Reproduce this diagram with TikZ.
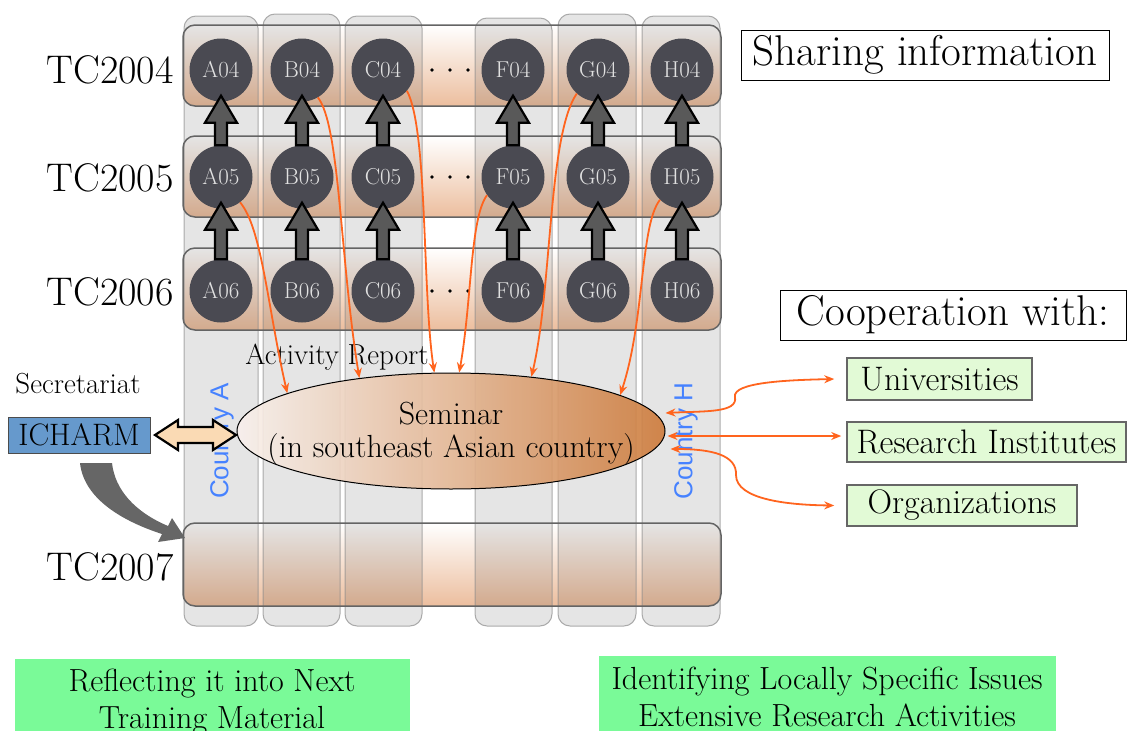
\documentclass[tikz,border=0pt]{standalone}
\usepackage{fontspec}
\newfontfamily\cfont{Liberation Sans}
\usetikzlibrary{calc,arrows.meta,shapes.geometric}
\definecolor{bandtan}{RGB}{236,190,158}
\definecolor{bandline}{RGB}{100,100,100}
\definecolor{circfill}{RGB}{74,74,82}
\definecolor{circtext}{RGB}{225,225,225}
\definecolor{orangec}{RGB}{255,100,30}
\definecolor{countryblue}{RGB}{70,130,255}
\definecolor{semleft}{RGB}{248,240,236}
\definecolor{semright}{RGB}{205,125,62}
\definecolor{greenbox}{RGB}{122,250,152}
\definecolor{lightgreen}{RGB}{226,250,214}
\definecolor{icharmblue}{RGB}{102,153,204}
\definecolor{peach}{RGB}{250,218,180}
\newcommand\fs[1]{\fontsize{#1}{#1}\selectfont}
\newcommand\blockup[2]{%
  \draw[blk] ($(#1.north)+(-6,0)$) -- ($(#2.south)+(-6,21)$) -- ($(#2.south)+(-16,21)$)
    -- ($(#2.south)+(0,-6)$) -- ($(#2.south)+(16,21)$) -- ($(#2.south)+(6,21)$)
    -- ($(#1.north)+(6,0)$) -- cycle;}
\tikzset{
  bandfill/.style={rounded corners=12pt, top color=white, bottom color=bandtan},
  bandedge/.style={rounded corners=12pt, draw=bandline, line width=1.5pt},
  colstrip/.style={rounded corners=12pt, fill=black, fill opacity=0.1, draw=black!45, draw opacity=0.7, line width=1pt},
  cnode/.style={circle, fill=circfill, minimum size=63pt, inner sep=0pt, text=circtext, font=\fs{23}},
  blk/.style={fill=black!65, draw=black, line width=2.2pt, line join=miter},
  tclab/.style={anchor=east, font=\fs{40}},
  oarr/.style={draw=orangec, line width=1.8pt, -{Stealth[length=10pt,width=8pt]}},
  oarr2/.style={draw=orangec, line width=1.8pt, {Stealth[length=10pt,width=8pt]}-{Stealth[length=10pt,width=8pt]}},
  partner/.style={draw=black!60, line width=1.5pt, fill=lightgreen, font=\fs{34}, inner sep=0pt},
  titlebox/.style={draw=black, line width=1pt, fill=white, font=\fs{43}, inner sep=0pt},
  country/.style={rotate=90, text=countryblue, font=\cfont\fs{26}},
}
\begin{document}
\begin{tikzpicture}[x=1pt,y=-1pt]
\useasboundingbox (0,0) rectangle (1128,731);
\clip (0,0) rectangle (1128,731);
% bands (fill)
\foreach \t/\b in {25/106,136/217,248/330,523/606}{
  \path[bandfill] (183,\t) rectangle (721,\b);
}
% column strips
\foreach \l/\r/\t in {184/258/16,263/340/14,345/422/16,475/552/18,558/636/14,642/720/16}{
  \path[colstrip] (\l,\t) rectangle (\r,626);
}
% band outlines
\foreach \t/\b in {25/106,136/217,248/330,523/606}{
  \path[bandedge] (183,\t) rectangle (721,\b);
}
% row labels
\node[tclab] (tc04) at (177,70) {TC2004};
\node[tclab] (tc05) at (177,178) {TC2005};
\node[tclab] (tc06) at (177,292) {TC2006};
\node[tclab] (tc07) at (177,567) {TC2007};
% circles
\foreach \c/\x in {A/221,B/302,C/383,F/513,G/598,H/682}{
  \foreach \r/\y in {04/70,05/177,06/291}{
    \node[cnode] (\c\r) at (\x,\y) {\c\r};
  }
}
% dots
\foreach \y in {70,177,291}{
  \foreach \x in {432,450,468}{\fill (\x,\y) circle (1.8);}
}
% block arrows
\foreach \c in {A,B,C,F,G,H}{
  \blockup{\c06}{\c05}
  \blockup{\c05}{\c04}
}
% seminar
\node[ellipse, draw=black, line width=1pt, minimum width=428pt, minimum height=116pt,
      left color=semleft, right color=semright, fill opacity=0.92] (seminar) at (451,431) {};
\node[align=center, font=\fontsize{32}{33}\selectfont] (semtext) at (451,434) {Seminar\\(in southeast Asian country)};
% country labels
\node[country] (ctyA) at (222,441) {Country A};
\node[country] (ctyH) at (686,441) {Country H};
% texts
\node[font=\fs{29}] (actrep) at (337,357) {Activity Report};
\node[font=\fs{29}] (secr) at (78,384) {Secretariat};
\node[draw=black!70, line width=1pt, fill=icharmblue, minimum width=142pt, minimum height=36pt, inner sep=0pt, font=\fs{31}] (icharm) at (79,435) {ICHARM};
% orange report arrows
\draw[oarr] (A05.-53) .. controls (262,228) and (268,310) .. (seminar.167);
\draw[oarr] (B04.-60) .. controls (340,125) and (340,260) .. (seminar.150);
\draw[oarr] (C04.-41) .. controls (428,130) and (422,290) .. (seminar.106);
\draw[oarr] (F05.215) .. controls (470,218) and (472,300) .. (seminar.82);
\draw[oarr] (G04.228) .. controls (548,135) and (552,290) .. (seminar.34);
\draw[oarr] (H05.226) .. controls (640,225) and (645,320) .. (seminar.12);
% title boxes
\node[titlebox, minimum width=368pt, minimum height=50pt] (share) at (925,55) {Sharing information};
\node[titlebox, minimum width=346pt, minimum height=50pt] (coop) at (953,315) {Cooperation with:};
% partner boxes
\node[partner, minimum width=185pt, minimum height=42pt] (univ) at (939.5,379) {Universities};
\node[partner, minimum width=279pt, minimum height=40pt] (resi) at (986.5,442) {Research Institutes};
\node[partner, minimum width=230pt, minimum height=41pt] (orgs) at (962,505.5) {Organizations};
% cooperation arrows
\draw[oarr2] ($(seminar.east)+(0,-18)$) .. controls (705,411) and (738,413) .. (735,397)
   .. controls (732,382) and (790,380) .. ($(univ.west)+(-12,0)$);
\draw[oarr2] ($(seminar.east)+(2,5)$) -- ($(resi.west)+(-5,-6)$);
\draw[oarr2] ($(seminar.east)+(5,18)$) .. controls (712,449) and (737,455) .. (736,475)
   .. controls (736,500) and (790,505) .. ($(orgs.west)+(-12,0)$);
% ICHARM <-> seminar double block arrow
\draw[fill=peach, draw=black, line width=2.2pt, line join=miter]
  (155,435) -- (178,420) -- (178,427) -- (213,427) -- (213,420) -- (236,435)
  -- (213,450) -- (213,443) -- (178,443) -- (178,450) -- cycle;
% gray curved arrow ICHARM -> TC2007
\fill[black!60] (80,463) .. controls (84,500) and (125,522) .. (162,534)
  -- (158,542) -- (185,538) -- (172,518) -- (168,526)
  .. controls (135,512) and (115,490) .. (112,463) -- cycle;
% bottom boxes
\fill[greenbox] (15,659) rectangle (410,745);
\node[align=center, font=\fontsize{32}{37}\selectfont] (refl) at (212,702) {Reflecting it into Next\\Training Material};
\fill[greenbox] (599,656) rectangle (1056,745);
\node[align=center, font=\fontsize{32}{37}\selectfont] (ident) at (827,697) {Identifying Locally Specific Issues\\Extensive Research Activities};
\end{tikzpicture}
\end{document}
